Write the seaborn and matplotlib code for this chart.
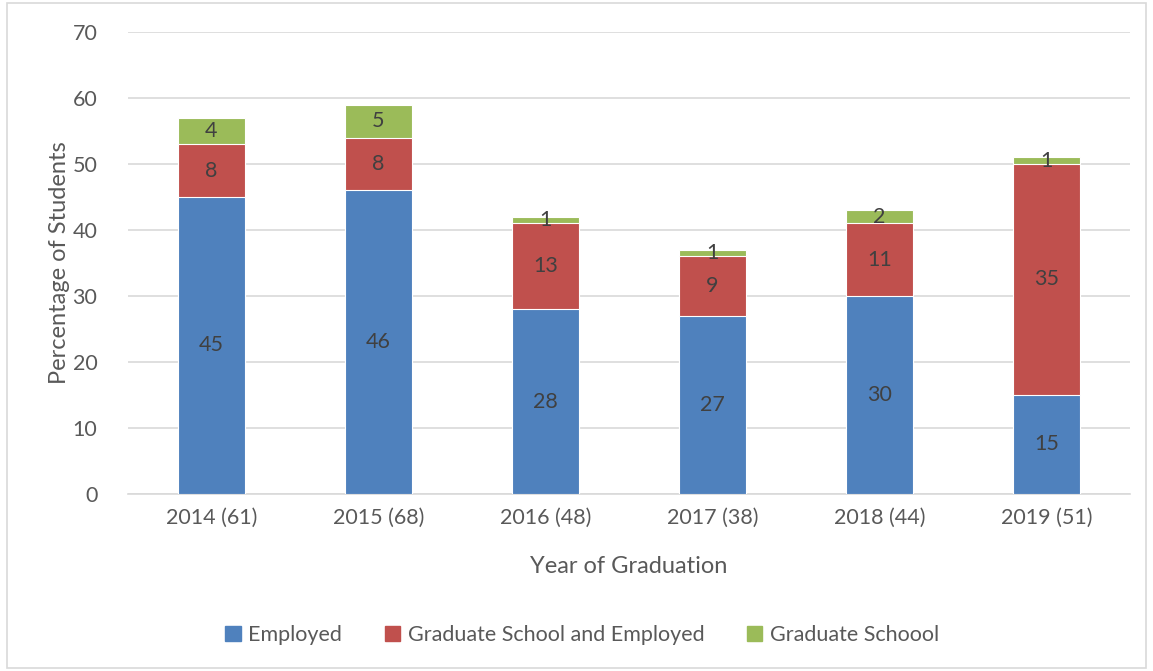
import matplotlib
matplotlib.use("Agg")
import matplotlib.pyplot as plt
import matplotlib.patches as mpatches
import numpy as np
import pandas as pd
import seaborn as sns

# values
years = ["2014 (61)", "2015 (68)", "2016 (48)", "2017 (38)", "2018 (44)", "2019 (51)"]
employed = [45, 46, 28, 27, 30, 15]
grad_and_employed = [8, 8, 13, 9, 11, 35]
grad_school = [4, 5, 1, 1, 2, 1]

series_names = ["Employed", "Graduate School and Employed", "Graduate Schoool"]
colors = ["#4F81BD", "#C0504D", "#9BBB59"]

sns.set_theme(style="white")
plt.rcParams['font.family'] = ['Lato', 'DejaVu Sans']

df = pd.DataFrame({
    "Year": years,
    "Employed": employed,
    "GradEmp": grad_and_employed,
    "Grad": grad_school,
})
df["top2"] = df["Employed"] + df["GradEmp"]
df["top3"] = df["top2"] + df["Grad"]

fig = plt.figure(figsize=(11.53, 6.71), dpi=100)
ax = fig.add_axes([0.111, 0.2638, 0.869, 0.6885])

# stack by drawing cumulative totals from tallest to shortest
for col, c in zip(["top3", "top2", "Employed"], colors[::-1]):
    sns.barplot(data=df, x="Year", y=col, color=c, width=0.4, ax=ax,
                edgecolor="white", linewidth=0.8, saturation=1, zorder=3)

# segment labels in the middle of each piece
txt_col = "#404040"
for i in range(len(years)):
    bottoms = [0, employed[i], employed[i] + grad_and_employed[i]]
    vals = [employed[i], grad_and_employed[i], grad_school[i]]
    for b, v in zip(bottoms, vals):
        ax.text(i, b + v / 2, str(v), ha="center", va="center",
                fontsize=15.5, color=txt_col, zorder=5)

ax.set_ylim(0, 70)
ax.set_yticks(range(0, 71, 10))
ax.set_xlim(-0.5, len(years) - 0.5)
ax.yaxis.grid(True, color="#D9D9D9", linewidth=1.2, zorder=0)
ax.set_axisbelow(True)
for s in ["top", "right", "left"]:
    ax.spines[s].set_visible(False)
ax.spines["bottom"].set_color("#D9D9D9")
ax.spines["bottom"].set_linewidth(1.2)
ax.tick_params(axis="both", length=0, labelsize=15.5, labelcolor="#595959")
ax.tick_params(axis="x", pad=10)
ax.tick_params(axis="y", pad=22)

ax.set_xlabel("Year of Graduation", fontsize=17, color="#595959", labelpad=20)
ax.set_ylabel("Percentage of Students", fontsize=17, color="#595959", labelpad=2)

handles = [mpatches.Patch(color=c, label=n) for c, n in zip(colors, series_names)]
fig.legend(handles=handles, loc="center", bbox_to_anchor=(0.505, 0.054), ncol=3,
           frameon=False, fontsize=15.5, handlelength=0.7, handleheight=0.7,
           handletextpad=0.35, columnspacing=2.0, labelcolor="#595959")

# light frame around the whole chart
fig.patches.append(mpatches.Rectangle((0.006, 0.005), 0.988, 0.99, transform=fig.transFigure,
                                      fill=False, edgecolor="#D9D9D9", linewidth=1.2))

fig.savefig("out.png", dpi=100)
